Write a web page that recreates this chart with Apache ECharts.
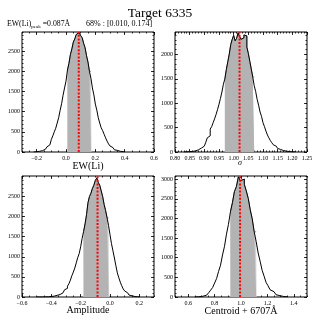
<!DOCTYPE html>
<html><head><meta charset="utf-8">
<script src="https://cdn.jsdelivr.net/npm/echarts@6/dist/echarts.min.js"></script>
<style>html,body{margin:0;padding:0;background:#fff}#c{width:320px;height:320px}</style>
</head><body><div id="c"></div>
<script>
// ---- data ----
const titleText = 'Target 6335';
const ewBinStart = -0.22, ewBinWidth = 0.01;
const ewCounts = [4,7,13,17,28,34,53,69,99,127,176,221,310,400,500,590,718,852,1035,1198,1410,1590,1760,2035,2200,2420,2560,2730,2810,2920,2965,2930,2890,2840,2700,2590,2390,2230,2000,1830,1590,1420,1190,1040,850,720,600,530,440,350,270,200,150,110,80,55,40,28,18,12,8,5];
const ewPeak = 0.087, ewLo = 0.010, ewHi = 0.174;
const ewXTicks = [-0.2,0,0.2,0.4,0.6];
const ewYTicks = [0,500,1000,1500,2000,2500];

const sigBinStart = 0.83, sigBinWidth = 0.005;
const sigCounts = [2,3,5,6,9,12,17,22,33,45,58,80,95,120,148,200,290,330,470,520,600,680,770,870,980,1100,1230,1390,1500,1690,1850,2010,2200,2310,2390,2280,2330,2440,2370,2310,2340,2400,2380,2150,2020,1860,1700,1540,1360,1240,1080,960,820,730,600,520,430,350,290,235,190,148,120,90,72,52,42,30,22,17,12,9,6,4,3,2];
const sigPeak = 1.02, sigLo = 0.970, sigHi = 1.070;
const sigXTicks = [0.80,0.85,0.90,0.95,1.00,1.05,1.10,1.15,1.20,1.25];
const sigYTicks = [0,500,1000,1500,2000];

const ampBinStart = -0.50, ampBinWidth = 0.01;
const ampCounts = [1,1,2,1,3,3,5,6,9,12,16,22,30,42,55,62,85,105,140,180,215,270,330,420,530,620,720,850,980,1080,1250,1460,1630,1820,2050,2350,2500,2580,2700,2780,2900,2960,2850,2780,2640,2500,2300,2150,1970,1780,1550,1330,1150,970,780,600,480,370,280,200,150,105,70,48,30,20,12,7,4,2];
const ampPeak = -0.085, ampLo = -0.183, ampHi = -0.005;
const ampXTicks = [-0.6,-0.4,-0.2,0,0.2];
const ampYTicks = [0,500,1000,1500,2000,2500];

const cenBinStart = 0.65, cenBinWidth = 0.015;
const cenCounts = [4,6,12,18,33,47,80,110,175,240,355,470,650,810,1070,1290,1600,1850,2170,2400,2680,2810,3060,2960,3000,2870,2700,2510,2220,1990,1660,1410,1120,910,680,530,370,285,185,135,85,58,34,23,12,8,4];
const cenPeak = 0.993, cenLo = 0.917, cenHi = 1.118;
const cenXTicks = [0.6,0.8,1.0,1.2,1.4];
const cenYTicks = [0,500,1000,1500,2000,2500,3000];

const headerLeft = ['EW(Li)', 'peak', ' =0.087Å'];
const headerRight = '68% : [0.010, 0.174]';
const xNames = ['EW(Li)', 'σ', 'Amplitude', 'Centroid + 6707Å'];

// ---- layout / build ----
const FONT = '"Liberation Serif", "DejaVu Serif", serif';
const panels = [
  {start:ewBinStart,w:ewBinWidth,c:ewCounts,peak:ewPeak,lo:ewLo,hi:ewHi,xt:ewXTicks,yt:ewYTicks,xmin:-0.3,xmax:0.6,xminor:0.05,ymax:2980,dec:1,
   grid:{left:22,top:32,width:132,height:120}},
  {start:sigBinStart,w:sigBinWidth,c:sigCounts,peak:sigPeak,lo:sigLo,hi:sigHi,xt:sigXTicks,yt:sigYTicks,xmin:0.8,xmax:1.25,xminor:0.01,ymax:2460,dec:2,
   grid:{left:175,top:32,width:132,height:120}},
  {start:ampBinStart,w:ampBinWidth,c:ampCounts,peak:ampPeak,lo:ampLo,hi:ampHi,xt:ampXTicks,yt:ampYTicks,xmin:-0.6,xmax:0.3,xminor:0.05,ymax:3010,dec:1,
   grid:{left:22,top:176,width:132,height:121}},
  {start:cenBinStart,w:cenBinWidth,c:cenCounts,peak:cenPeak,lo:cenLo,hi:cenHi,xt:cenXTicks,yt:cenYTicks,xmin:0.5,xmax:1.5,xminor:0.05,ymax:3080,dec:1,
   grid:{left:175,top:176,width:132,height:121}}
];

function edge(p,i){ return +(p.start + i*p.w).toFixed(6); }
function outline(p){
  const pts=[[edge(p,0),0]];
  for(let i=0;i<p.c.length;i++) pts.push([edge(p,i),p.c[i]]);
  pts.push([edge(p,p.c.length),p.c[p.c.length-1]]);
  pts.push([edge(p,p.c.length),0]);
  return pts;
}
function idx(p,x){ return Math.min(p.c.length-1, Math.max(0, Math.floor((x-p.start)/p.w))); }
function lightFill(p){
  const pts=[[p.lo,p.c[idx(p,p.lo)]]];
  for(let i=0;i<=p.c.length;i++){ const e=edge(p,i); if(e>p.lo && e<p.hi) pts.push([e,p.c[i]]); }
  pts.push([p.hi,p.c[idx(p,p.hi-1e-9)]]);
  return pts;
}
function darkFill(p){
  const pts=[];
  let first=-1,last=-1;
  for(let i=0;i<=p.c.length;i++){ const e=edge(p,i); if(e>=p.lo && e<=p.hi){ if(first<0) first=i; last=i; } }
  for(let i=first;i<last;i++) pts.push([edge(p,i),p.c[i]]);
  pts.push([edge(p,last),p.c[last-1]]);
  return pts;
}

const grids=[], xAxes=[], yAxes=[], series=[];
const tickStyle={color:'#000',width:0.8};
const noLine={show:false,onZero:false};
panels.forEach((p,gi)=>{
  grids.push(Object.assign({show:true,borderColor:'#000',borderWidth:1,backgroundColor:'transparent'},p.grid));
  const fmt = v => (v<0?'\u2212':'') + Math.abs(v).toFixed(p.dec);
  const xBase={type:'value',gridIndex:gi,min:p.xmin,max:p.xmax,axisLine:noLine,splitLine:{show:false}};
  ['bottom','top'].forEach(pos=>{
    xAxes.push(Object.assign({},xBase,{position:pos,
      axisTick:{show:true,inside:true,length:3,customValues:p.xt,lineStyle:tickStyle},
      axisLabel:{show:pos==='bottom',customValues:p.xt,formatter:fmt,fontSize:6,color:'#000',fontFamily:FONT,margin:3}}));
    xAxes.push(Object.assign({},xBase,{position:pos,interval:p.xminor,
      axisTick:{show:true,inside:true,length:1.5,lineStyle:tickStyle},axisLabel:{show:false}}));
  });
  const yBase={type:'value',gridIndex:gi,min:0,max:p.ymax,axisLine:noLine,splitLine:{show:false}};
  ['left','right'].forEach(pos=>{
    yAxes.push(Object.assign({},yBase,{position:pos,
      axisTick:{show:true,inside:true,length:3,customValues:p.yt,lineStyle:tickStyle},
      axisLabel:{show:pos==='left',customValues:p.yt,formatter:v=>String(Math.round(v)),fontSize:6,color:'#000',fontFamily:FONT,margin:2}}));
    yAxes.push(Object.assign({},yBase,{position:pos,interval:100,
      axisTick:{show:true,inside:true,length:1.5,lineStyle:tickStyle},axisLabel:{show:false}}));
  });
  const xi=gi*4, yi=gi*4;
  series.push({type:'line',xAxisIndex:xi,yAxisIndex:yi,data:lightFill(p),step:'end',symbol:'none',silent:true,z:1,
    lineStyle:{width:0},areaStyle:{color:'#d4d4d4',opacity:1}});
  series.push({type:'line',xAxisIndex:xi,yAxisIndex:yi,data:darkFill(p),step:'end',symbol:'none',silent:true,z:2,
    lineStyle:{width:1,color:'#8c8c8c'},areaStyle:{color:'#b3b3b3',opacity:1}});
  series.push({type:'line',xAxisIndex:xi,yAxisIndex:yi,data:outline(p),step:'end',symbol:'none',silent:true,z:3,
    lineStyle:{width:1,color:'#000'}});
  series.push({type:'line',xAxisIndex:xi,yAxisIndex:yi,data:[[p.peak,0],[p.peak,p.ymax]],symbol:'none',silent:true,z:4,
    lineStyle:{width:2,color:'#ff0000',type:[2,1.6]}});
});

const nameY=[166,163,310,311.5], nameX=[88,240,88,241], nameSize=[10,8,10,10];
const graphics=[
  {type:'text',x:160,y:13,style:{text:titleText,font:'13.5px '+FONT,fill:'#000',align:'center',verticalAlign:'middle'}},
  {type:'text',x:7,y:24,style:{text:'{a|'+headerLeft[0]+'}{s|'+headerLeft[1]+'}{a|'+headerLeft[2]+'}',
    fill:'#000',verticalAlign:'middle',align:'left',
    rich:{a:{fontSize:7.8,fontFamily:FONT,lineHeight:10,verticalAlign:'middle'},s:{fontSize:5,fontFamily:FONT,lineHeight:10,verticalAlign:'bottom'}}}},
  {type:'text',x:86,y:24,style:{text:headerRight,font:'8px '+FONT,fill:'#000',align:'left',verticalAlign:'middle'}}
];
xNames.forEach((n,i)=>graphics.push({type:'text',x:nameX[i],y:nameY[i],
  style:{text:n,font:(i===1?'italic ':'')+nameSize[i]+'px '+FONT,fill:'#000',align:'center',verticalAlign:'middle'}}));

const chart=echarts.init(document.getElementById('c'),null,{renderer:'canvas'});
chart.setOption({animation:false,grid:grids,xAxis:xAxes,yAxis:yAxes,series:series,graphic:graphics});
</script></body></html>
